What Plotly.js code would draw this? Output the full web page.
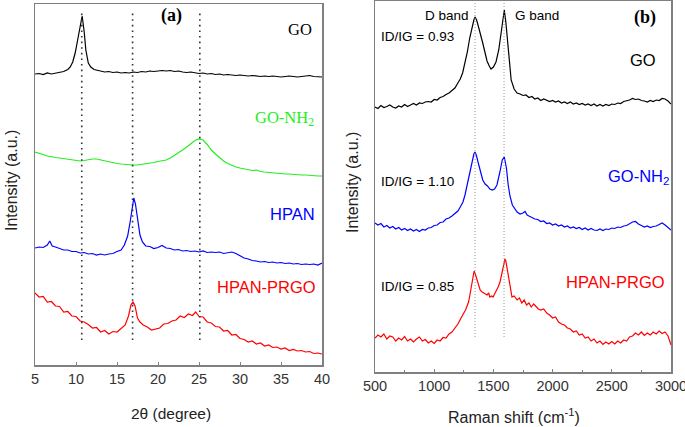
<!DOCTYPE html>
<html>
<head>
<meta charset="utf-8">
<script src="https://cdn.plot.ly/plotly-3.0.1.min.js"></script>
<style>
  html, body { margin: 0; padding: 0; background: #fff; }
  #chart { width: 685px; height: 427px; }
</style>
</head>
<body>
<div id="chart"></div>
<script>
// (a) XRD patterns, offset stacked, arbitrary units
var xrdGoX = [5, 5.5, 6, 6.5, 7, 7.5, 8, 8.5, 9, 9.3, 9.6, 9.9, 10.2, 10.5, 10.75, 11.0, 11.2, 11.5, 11.8, 12.2, 12.6,
  13, 13.5, 14, 14.5, 15, 15.5, 16, 16.5, 17, 17.5, 18, 18.5, 19, 19.5, 20, 20.5, 21, 21.5, 22, 22.5, 23, 23.5, 24, 24.5,
  25, 25.5, 26, 26.5, 27, 27.5, 28, 28.5, 29, 29.5, 30, 30.5, 31, 31.5, 32, 32.5, 33, 33.5, 34, 34.5, 35, 35.5, 36, 36.5,
  37, 37.5, 38, 38.5, 39, 39.5, 40];
var xrdGoY = [291, 291.5, 290.5, 292, 291, 292, 292.5, 293.5, 295.5, 298, 303, 312, 325, 339, 349, 333, 315, 302, 298, 295.5, 294.5,
  294, 293, 293.5, 292.5, 293, 292, 292.5, 292, 293, 292.5, 293.5, 293, 294, 293.5, 294, 294.5, 294, 294.5, 293.5, 294, 293, 292.5, 293, 292,
  291.5, 292, 291, 291.5, 290.5, 291, 290, 290.5, 290, 289.5, 290, 289.5, 289, 289.5, 289, 288.5, 289, 288.5, 289, 288.5, 288, 288.5, 289, 288.5,
  288, 288.5, 289, 289.5, 288.5, 288, 288];

var xrdNh2X = [5, 5.5, 6, 6.5, 7, 7.5, 8, 8.5, 9, 9.5, 10, 10.5, 11, 11.5, 12, 12.5, 13, 13.5, 14, 14.5, 15, 15.5, 16, 16.5,
  17, 17.5, 18, 18.5, 19, 19.5, 20, 20.5, 21, 21.5, 22, 22.5, 23, 23.5, 24, 24.5, 25, 25.5, 26, 26.5, 27, 27.5, 28, 28.5,
  29, 29.5, 30, 30.5, 31, 31.5, 32, 32.5, 33, 33.5, 34, 34.5, 35, 35.5, 36, 36.5, 37, 37.5, 38, 38.5, 39, 39.5, 40];
var xrdNh2Y = [213, 212, 210.5, 209, 208, 207.5, 207, 206.5, 206, 205.5, 205, 204, 204.5, 205.5, 206, 206, 205, 204, 203, 202, 201.5, 201, 200.5, 200,
  200, 200, 200.5, 201, 201.5, 202.5, 203.5, 204, 205, 207, 209.5, 212, 215, 218, 221.5, 224.5, 226, 225, 220.5, 215, 211, 207.5, 204, 201.5,
  199.5, 198, 197, 196, 195, 194.5, 195, 193.5, 193, 192.5, 192.5, 192, 191.5, 191, 191, 190.5, 190.5, 190, 190, 189.5, 189.5, 189, 189];

var xrdHpanX = [5, 5.5, 6, 6.5, 6.8, 7.1, 7.5, 8, 8.5, 9, 9.5, 10, 10.5, 11, 11.5, 12, 12.5, 13, 13.5, 14, 14.5, 15, 15.5, 15.9,
  16.3, 16.6, 16.85, 17.05, 17.25, 17.5, 17.8, 18.1, 18.5, 19, 19.5, 20, 20.5, 21, 21.5, 22, 22.5, 23, 23.5, 24, 24.5, 25,
  25.5, 26, 26.5, 27, 27.5, 28, 28.5, 29, 29.5, 30, 30.5, 31, 31.5, 32, 32.5, 33, 33.5, 34, 34.5, 35, 35.5, 36, 36.5, 37,
  37.5, 38, 38.5, 39, 39.5, 40];
var xrdHpanY = [117, 118, 117.5, 120, 124, 119, 118, 116.5, 115, 115, 113.5, 113.5, 112, 112.5, 111, 111.5, 110, 111, 110, 111, 111.5, 113.5, 115, 120,
  129, 143, 159, 167, 161, 145, 130, 123, 119, 118.5, 116.5, 117.5, 119.5, 117, 116.5, 115, 115.5, 114, 114.5, 113.5, 114, 113,
  114, 112.5, 113, 112.5, 113, 111.5, 112.5, 113, 111.5, 109.5, 107, 106, 104.5, 104, 103, 103.5, 102.5, 103, 102, 102.5, 101.5, 102, 101, 101.5,
  100.5, 101, 100.5, 101, 100, 102];

var xrdPrgoX = [5, 5.5, 6, 6.5, 7, 7.5, 8, 8.5, 9, 9.5, 10, 10.5, 11, 11.5, 12, 12.5, 13, 13.5, 14, 14.5, 15, 15.5, 16, 16.4,
  16.7, 16.95, 17.2, 17.5, 17.8, 18.2, 18.7, 19.2, 19.7, 20.2, 20.7, 21.2, 21.7, 22.2, 22.7, 23.2, 23.7, 24.2, 24.6, 25,
  25.5, 26, 26.5, 27, 27.5, 28, 28.5, 29, 29.5, 30, 30.5, 31, 31.5, 32, 32.5, 33, 33.5, 34, 34.5, 35, 35.5, 36, 36.5, 37,
  37.5, 38, 38.5, 39, 39.5, 40];
var xrdPrgoY = [72, 68, 68.5, 63, 63.5, 59, 58.5, 53, 53.5, 49, 48.5, 44, 43, 40.5, 37, 37.5, 33, 34.5, 31, 33.5, 33, 36.5, 40, 49,
  60, 63, 59, 47, 43, 40, 38, 35, 36, 37, 41, 41.5, 44, 45, 49, 47.5, 51, 49.5, 53, 48.5,
  48, 43, 42, 38.5, 38, 34, 34.5, 30, 30.5, 26.5, 25.5, 23, 24, 21, 22, 19, 20, 17.5, 18, 16, 17, 14.5, 15.5, 14,
  14.5, 13, 13.5, 11.5, 12, 11];

var xrdPeaks = [10.7, 16.9, 25.1];

// (b) Raman spectra, offset stacked, arbitrary units
var ramGoX = [500, 525, 550, 575, 600, 625, 650, 675, 700, 725, 750, 775, 800, 825, 850, 875, 900, 925, 950, 975,
  1000, 1025, 1050, 1075, 1100, 1125, 1150, 1175,
  1200, 1220, 1240, 1260, 1280, 1300, 1320, 1335, 1345, 1358, 1370, 1390, 1410, 1430, 1446, 1465, 1480, 1500, 1522, 1545,
  1565, 1580, 1592, 1605, 1620, 1635, 1650, 1675,
  1700, 1725, 1750, 1775, 1800, 1825, 1850, 1875, 1900, 1925, 1950, 1975, 2000, 2025, 2050, 2075, 2100, 2125, 2150, 2175,
  2200, 2225, 2250, 2275, 2300, 2325, 2350, 2375, 2400, 2425, 2450, 2475, 2500, 2525, 2550, 2575, 2600, 2625, 2650, 2675,
  2700, 2725, 2750, 2775, 2800, 2825, 2850, 2875, 2900, 2925, 2950, 2975, 3000];
var ramGoY = [265, 263.5, 266.5, 264.5, 265.5, 267, 265, 264, 266, 265, 267.5, 265.5, 267, 268.5, 267, 269, 268.5, 270, 270.5, 270,
  272.5, 272, 274.5, 275.5, 277.5, 279, 281.5, 284,
  289, 293, 299, 309, 320, 334, 345, 352, 355, 352, 347, 339, 329, 319, 311, 306, 303, 305, 310, 322,
  339, 354, 362, 350, 330, 307, 292, 283,
  279, 278, 276.5, 277, 274.5, 275.5, 273, 274, 271.5, 273, 272, 270.5, 271.5, 270, 271, 269, 270, 268.5, 270, 268,
  269, 267.5, 268.5, 267, 268, 266.5, 268, 266, 267.5, 266, 267.5, 266.5, 268, 267.5, 269, 268.5, 270.5, 271, 272, 273.5,
  272.5, 273, 271.5, 271, 270, 271.5, 270.5, 272, 271.5, 273.5, 273, 271, 268];

var ramNh2X = [500, 525, 550, 575, 600, 625, 650, 675, 700, 725, 750, 775, 800, 825, 850, 875, 900, 925, 950, 975,
  1000, 1025, 1050, 1075, 1100, 1125, 1150, 1175,
  1200, 1220, 1243, 1260, 1280, 1300, 1320, 1335, 1345, 1358, 1370, 1390, 1410, 1430, 1450, 1470, 1490, 1510, 1530, 1555,
  1575, 1592, 1610, 1625, 1640, 1660, 1680,
  1700, 1725, 1750, 1767, 1785, 1800, 1825, 1850, 1875, 1900, 1925, 1950, 1975, 2000, 2025, 2050, 2075, 2100, 2125, 2150,
  2175, 2200, 2225, 2250, 2275, 2300, 2325, 2350, 2375, 2400, 2425, 2450, 2475, 2500, 2525, 2550, 2575, 2600, 2625, 2650,
  2675, 2700, 2725, 2750, 2775, 2800, 2825, 2850, 2875, 2900, 2925, 2950, 2975, 3000];
var ramNh2Y = [149, 147, 148.5, 145, 146.5, 144, 145.5, 143, 144.5, 142, 143.5, 141.5, 143, 141, 142.5, 140.5, 142.5, 142, 144, 144.5,
  146.5, 147, 149.5, 150, 153, 154, 156, 158.5,
  161, 165, 170, 177, 188, 200, 212, 218, 220, 216, 210, 200, 192, 188, 186, 183, 182, 183, 187, 200,
  212, 215, 204, 187, 176, 167, 163,
  160, 158, 159, 160.5, 157, 156, 154.5, 153, 152.5, 150.5, 151, 148.5, 149, 147, 148, 146, 147, 145, 146, 144,
  145, 143.5, 144.5, 142.5, 144, 142, 143.5, 142, 141.5, 143, 141.5, 143, 142.5, 144, 143.5, 145, 144.5, 146, 146.5, 148,
  150, 150.5, 148, 146.5, 145, 146, 144.5, 145.5, 146, 147.5, 149, 147, 144.5, 142];

var ramPrgoX = [500, 525, 550, 575, 600, 625, 650, 675, 700, 725, 750, 775, 800, 825, 850, 875, 900, 925, 950, 975,
  1000, 1025, 1050, 1075, 1100, 1125, 1150, 1175,
  1200, 1218, 1235, 1250, 1265, 1277, 1290, 1300, 1310, 1320, 1330, 1337, 1347, 1360, 1375, 1388, 1405, 1420, 1435, 1446,
  1460, 1470, 1485, 1497, 1510, 1520, 1540, 1556, 1570, 1580, 1590, 1598, 1605, 1612, 1623, 1632, 1640, 1657,
  1675, 1700, 1720, 1740, 1760, 1780, 1800, 1820, 1840, 1860, 1880, 1900, 1925, 1950, 1975, 2000, 2025, 2050, 2075, 2100,
  2125, 2150, 2175, 2200, 2225, 2250, 2275, 2300, 2325, 2350, 2375, 2400, 2425, 2450, 2475, 2500, 2525, 2550, 2575, 2600,
  2625, 2650, 2675, 2700, 2725, 2750, 2775, 2800, 2825, 2850, 2875, 2900, 2925, 2950, 2975, 3000];
var ramPrgoY = [34, 37, 35, 38, 33, 36, 35, 31, 34, 32, 35.5, 31, 33, 30, 33, 35, 31, 32.5, 29, 31,
  28.5, 32, 31, 34.5, 34, 38, 40, 43.5,
  48, 52, 55, 59, 62, 65, 70, 76, 82, 89, 97, 101, 98, 92, 86, 82, 80, 79, 78, 77,
  79, 75, 76, 75, 78, 80, 85, 90, 97, 104, 110, 113, 111, 106, 99, 92, 84, 75,
  76, 72, 74, 69, 72, 67, 69, 65, 68, 65, 63, 62, 63, 59, 57, 54, 55, 50, 48, 47,
  44, 43, 40, 41, 37, 38, 34, 35, 31, 33, 29, 31, 27.5, 30, 28, 30.5, 28, 31, 29, 32,
  31, 35, 36, 39, 37, 40, 36.5, 39, 37, 40, 38, 41, 38.5, 40, 36, 27];

var ramanBands = [1345, 1590];

function px(x) { return x / 685; }
function py(y) { return 1 - y / 427; }

var data = [
  {x: xrdGoX, y: xrdGoY, xaxis: 'x', yaxis: 'y', mode: 'lines', line: {color: '#000000', width: 1.2}},
  {x: xrdNh2X, y: xrdNh2Y, xaxis: 'x', yaxis: 'y', mode: 'lines', line: {color: '#22ee22', width: 1.2}},
  {x: xrdHpanX, y: xrdHpanY, xaxis: 'x', yaxis: 'y', mode: 'lines', line: {color: '#0000ff', width: 1.2}},
  {x: xrdPrgoX, y: xrdPrgoY, xaxis: 'x', yaxis: 'y', mode: 'lines', line: {color: '#ff0000', width: 1.2}},
  {x: ramGoX, y: ramGoY, xaxis: 'x2', yaxis: 'y2', mode: 'lines', line: {color: '#000000', width: 1.2}},
  {x: ramNh2X, y: ramNh2Y, xaxis: 'x2', yaxis: 'y2', mode: 'lines', line: {color: '#0000ff', width: 1.2}},
  {x: ramPrgoX, y: ramPrgoY, xaxis: 'x2', yaxis: 'y2', mode: 'lines', line: {color: '#ff0000', width: 1.2}}
];

var shapes = [];
xrdPeaks.forEach(function (p) {
  shapes.push({type: 'line', xref: 'x', yref: 'y', x0: p, x1: p, y0: 25, y1: 353,
    line: {color: '#333', width: 1.6, dash: '1.6px,4px'}});
});
ramanBands.forEach(function (p) {
  shapes.push({type: 'line', xref: 'x2', yref: 'y2', x0: p, x1: p, y0: 35, y1: 371,
    line: {color: '#999', width: 1, dash: '1px,2px'}});
});

var serif = 'Liberation Serif, Times New Roman, serif';
var sans = 'Liberation Sans, Arial, sans-serif';

function label(text, x, y, size, color, family) {
  return {text: text, xref: 'paper', yref: 'paper', x: px(x), y: py(y), showarrow: false,
    xanchor: 'center', yanchor: 'middle', font: {size: size, color: color, family: family}};
}

var annotations = [
  label('<b>(a)</b>', 171, 15, 18, '#000', serif),
  label('GO', 300, 30, 16.5, '#000', serif),
  label('GO-NH<sub>2</sub>', 284, 118, 16.5, '#22ee22', serif),
  label('HPAN', 292, 214, 16.5, '#0000ff', sans),
  label('HPAN-PRGO', 266, 287, 16.5, '#ff0000', sans),
  label('D band', 447, 15, 13.5, '#000', sans),
  label('G band', 537, 15, 13.5, '#000', sans),
  label('<b>(b)</b>', 645, 17, 18, '#000', serif),
  label('ID/IG = 0.93', 417, 37, 13.5, '#000', sans),
  label('GO', 643, 60, 16.5, '#000', sans),
  label('ID/IG = 1.10', 417, 181, 13.5, '#000', sans),
  label('GO-NH<sub>2</sub>', 638, 177, 16.5, '#0000ff', sans),
  label('ID/IG = 0.85', 417, 286, 13.5, '#000', sans),
  label('HPAN-PRGO', 615, 282, 16.5, '#ff0000', sans),
  label('2θ (degree)', 171, 413, 15.5, '#222', sans),
  label('Raman shift (cm<sup>-1</sup>)', 514, 416, 16, '#222', sans),
  {text: 'Intensity (a.u.)', xref: 'paper', yref: 'paper', x: px(11), y: py(181), showarrow: false,
    textangle: -90, xanchor: 'center', yanchor: 'middle', font: {size: 16, color: '#222', family: sans}},
  {text: 'Intensity (a.u.)', xref: 'paper', yref: 'paper', x: px(352), y: py(183), showarrow: false,
    textangle: -90, xanchor: 'center', yanchor: 'middle', font: {size: 16, color: '#222', family: sans}}
];

var axisLine = {showline: true, mirror: true, linecolor: '#808080', linewidth: 1.5,
  showgrid: false, zeroline: false, automargin: false};

var layout = {
  width: 685,
  height: 427,
  margin: {l: 0, r: 0, t: 0, b: 0},
  paper_bgcolor: '#ffffff',
  plot_bgcolor: '#ffffff',
  showlegend: false,
  font: {family: sans, size: 14, color: '#333'},
  xaxis: Object.assign({}, axisLine, {domain: [px(35), px(322)], range: [5, 40], dtick: 5,
    ticks: 'inside', ticklen: 3, tickcolor: '#808080', tickfont: {size: 14.5, color: '#333'}, anchor: 'y',
    ticklabeloverflow: 'allow'}),
  yaxis: Object.assign({}, axisLine, {domain: [py(365), py(4)], range: [0, 361],
    showticklabels: false, ticks: '', anchor: 'x'}),
  xaxis2: Object.assign({}, axisLine, {domain: [px(375), px(671)], range: [500, 3000], dtick: 500,
    ticks: 'inside', ticklen: 3, tickcolor: '#808080', tickfont: {size: 14.5, color: '#333'}, anchor: 'y2',
    ticklabeloverflow: 'allow',
    minor: {dtick: 250, ticks: 'inside', ticklen: 2, tickcolor: '#808080'}}),
  yaxis2: Object.assign({}, axisLine, {domain: [py(372), py(1)], range: [0, 371],
    showticklabels: false, ticks: '', anchor: 'x2'}),
  shapes: shapes,
  annotations: annotations
};

Plotly.newPlot('chart', data, layout, {displayModeBar: false, staticPlot: true});
</script>
</body>
</html>
